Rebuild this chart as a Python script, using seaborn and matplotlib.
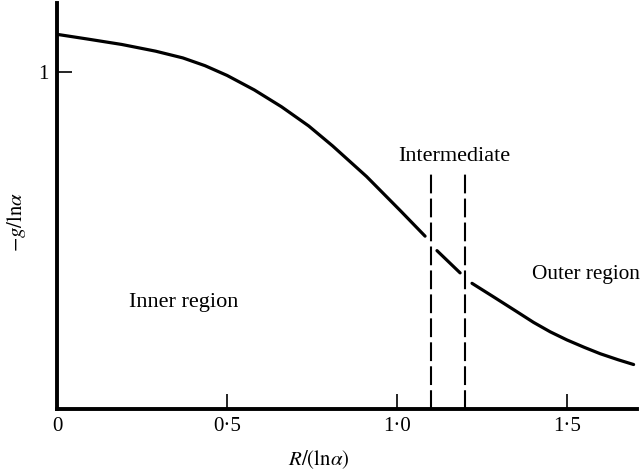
import numpy as np
import pandas as pd
import matplotlib
matplotlib.use("Agg")
import matplotlib.pyplot as plt
import seaborn as sns

# ---- data ----
inner_x = [0.0, 0.09, 0.19, 0.29, 0.37, 0.435, 0.50, 0.58, 0.66, 0.74, 0.81, 0.91, 1.01, 1.082]
inner_y = [1.112, 1.098, 1.082, 1.062, 1.042, 1.019, 0.990, 0.947, 0.897, 0.840, 0.781, 0.690, 0.588, 0.513]
mid_x = [1.117, 1.185]
mid_y = [0.470, 0.404]
outer_x = [1.220, 1.283, 1.35, 1.401, 1.45, 1.499, 1.55, 1.597, 1.65, 1.695]
outer_y = [0.373, 0.333, 0.290, 0.257, 0.229, 0.205, 0.183, 0.164, 0.146, 0.132]

boundaries = [1.1, 1.2]
boundary_top = 0.704

x_ticks = [0, 0.5, 1.0, 1.5]
x_ticklabels = ["0", "0·5", "1·0", "1·5"]
y_ticks = [1]
y_ticklabels = ["1"]

labels = ["Intermediate", "Outer region", "Inner region"]

df = pd.concat([
    pd.DataFrame({"x": inner_x, "y": inner_y, "seg": "inner"}),
    pd.DataFrame({"x": mid_x, "y": mid_y, "seg": "mid"}),
    pd.DataFrame({"x": outer_x, "y": outer_y, "seg": "outer"}),
], ignore_index=True)

sns.set_theme(style="white")
plt.rcParams["font.family"] = ["Liberation Serif", "DejaVu Serif"]
plt.rcParams["mathtext.fontset"] = "stix"

fig = plt.figure(figsize=(6.42, 4.71), dpi=100)
ax = fig.add_axes([57 / 642, (471 - 409) / 471, 580 / 642, 406 / 471])

sns.lineplot(data=df, x="x", y="y", units="seg", estimator=None, sort=False,
             color="black", linewidth=2.3, ax=ax)

ax.vlines(boundaries, 0, boundary_top, colors="black", linewidth=1.5,
          linestyles=(0, (9, 2.5)))

ax.set_xlim(0, 1.705)
ax.set_ylim(0, 1.205)

for side in ["top", "right"]:
    ax.spines[side].set_visible(False)
for side in ["left", "bottom"]:
    ax.spines[side].set_linewidth(2.8)
    ax.spines[side].set_color("black")

ax.set_xticks(x_ticks)
ax.set_xticklabels(x_ticklabels)
ax.set_yticks(y_ticks)
ax.set_yticklabels(y_ticklabels)
ax.tick_params(axis="both", direction="in", length=11, width=1.2, color="black",
               labelsize=15, pad=6, labelcolor="black")
ax.tick_params(axis="x", bottom=True)
ax.tick_params(axis="y", left=True)

ax.set_xlabel(r"$R/(\mathrm{ln}\alpha)$", fontsize=15, color="black",
              ha="center", va="center")
ax.set_ylabel(r"$-g/\mathrm{ln}\alpha$", fontsize=15, color="black",
              ha="center", va="center")
ax.xaxis.set_label_coords(0.452, -0.1256)
ax.yaxis.set_label_coords(-0.069, 0.46)

ax.text(1.167, 0.749, labels[0], fontsize=16, ha="center", va="center", color="black")
ax.text(1.396, 0.398, labels[1], fontsize=15.3, ha="left", va="center", color="black")
ax.text(0.212, 0.315, labels[2], fontsize=16, ha="left", va="center", color="black")

fig.savefig("out.png", dpi=100)
